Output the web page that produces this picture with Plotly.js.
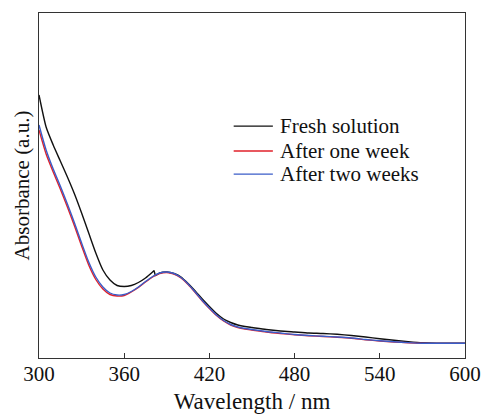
<!DOCTYPE html>
<html>
<head>
<meta charset="utf-8">
<script src="https://cdn.plot.ly/plotly-3.0.1.min.js"></script>
<style>html,body{margin:0;padding:0;background:#fff;}#chart{width:483px;height:414px;}</style>
</head>
<body>
<div id="chart"></div>
<script>
// Wavelength (nm)
const wlFresh = [300,305,310,315,320,325,330,335,340,345,350,355,360,365,370,375,380,381,382,385,390,395,400,405,410,415,420,425,430,435,440,445,450,460,470,480,490,500,510,520,530,540,550,560,570,580,590,600];
const absFresh = [2.63,2.31,2.13,1.97,1.81,1.64,1.45,1.25,1.05,0.88,0.78,0.725,0.715,0.725,0.755,0.80,0.86,0.873,0.825,0.85,0.86,0.845,0.81,0.745,0.67,0.59,0.515,0.445,0.39,0.355,0.33,0.315,0.305,0.285,0.27,0.26,0.25,0.245,0.237,0.225,0.21,0.192,0.177,0.164,0.153,0.148,0.147,0.147];

const wlAged = [300,305,310,315,320,325,330,335,340,345,350,355,360,365,370,375,380,385,390,395,400,405,410,415,420,425,430,435,440,445,450,460,470,480,490,500,510,520,530,540,550,560,570,580,590,600];
const absOneWeek = [2.28,2.04,1.86,1.69,1.51,1.32,1.12,0.93,0.785,0.69,0.635,0.62,0.625,0.66,0.705,0.76,0.81,0.845,0.855,0.84,0.80,0.735,0.655,0.57,0.495,0.425,0.37,0.33,0.305,0.29,0.28,0.26,0.245,0.232,0.222,0.215,0.207,0.197,0.182,0.17,0.16,0.152,0.147,0.146,0.146,0.146];
const absTwoWeeks = [2.33,2.08,1.89,1.72,1.54,1.35,1.15,0.96,0.81,0.71,0.65,0.63,0.635,0.665,0.71,0.765,0.815,0.85,0.86,0.845,0.805,0.74,0.66,0.575,0.50,0.43,0.375,0.335,0.31,0.295,0.285,0.265,0.25,0.235,0.225,0.218,0.21,0.20,0.185,0.172,0.162,0.154,0.148,0.147,0.147,0.147];

const seriesNames = ['Fresh solution','After one week','After two weeks'];
const seriesColors = ['#111111','#e0202a','#3a5cc8'];
const xTicks = [300,360,420,480,540,600];

const font = 'Liberation Serif';
const traces = [
  {x: wlFresh, y: absFresh, name: seriesNames[0]},
  {x: wlAged, y: absOneWeek, name: seriesNames[1]},
  {x: wlAged, y: absTwoWeeks, name: seriesNames[2]}
].map((t,i) => Object.assign(t, {
  type: 'scatter', mode: 'lines', showlegend: false,
  line: {color: seriesColors[i], width: 1.4, shape: 'spline', smoothing: 0.6}
}));

// Legend drawn in paper coordinates (compact row spacing like the original)
const legX0 = 0.457, legX1 = 0.549, legTextX = 0.562;
const legRowY = [0.672, 0.600, 0.533];
const shapes = seriesNames.map((n,i) => ({
  type: 'line', xref: 'paper', yref: 'paper',
  x0: legX0, x1: legX1, y0: legRowY[i], y1: legRowY[i],
  line: {color: seriesColors[i], width: 1.4}
}));
const annotations = seriesNames.map((n,i) => ({
  xref: 'paper', yref: 'paper', x: legTextX, y: legRowY[i],
  xanchor: 'left', yanchor: 'middle', showarrow: false, text: n,
  font: {family: font, size: 21, color: '#111'}
}));

const layout = {
  width: 483, height: 414,
  margin: {l: 39, r: 18, t: 13, b: 56},
  paper_bgcolor: '#fff', plot_bgcolor: '#fff',
  font: {family: font, color: '#111', size: 20},
  showlegend: false,
  shapes: shapes,
  annotations: annotations,
  xaxis: {
    range: [300, 600], tickvals: xTicks, ticktext: xTicks.map(String),
    ticks: 'inside', ticklen: 5, tickwidth: 1, tickcolor: '#333',
    showline: true, linecolor: '#333', linewidth: 1, mirror: true,
    showgrid: false, zeroline: false, ticklabelstandoff: -3,
    tickfont: {family: font, size: 21, color: '#111'},
    title: {text: 'Wavelength / nm', font: {family: font, size: 23, color: '#111'}, standoff: 8}
  },
  yaxis: {
    range: [0, 3.45], showticklabels: false, ticks: '',
    showline: true, linecolor: '#333', linewidth: 1, mirror: true,
    showgrid: false, zeroline: false,
    title: {text: 'Absorbance (a.u.)', font: {family: font, size: 21, color: '#111'}, standoff: 2}
  }
};

Plotly.newPlot('chart', traces, layout, {displayModeBar: false, staticPlot: true});
</script>
</body>
</html>
